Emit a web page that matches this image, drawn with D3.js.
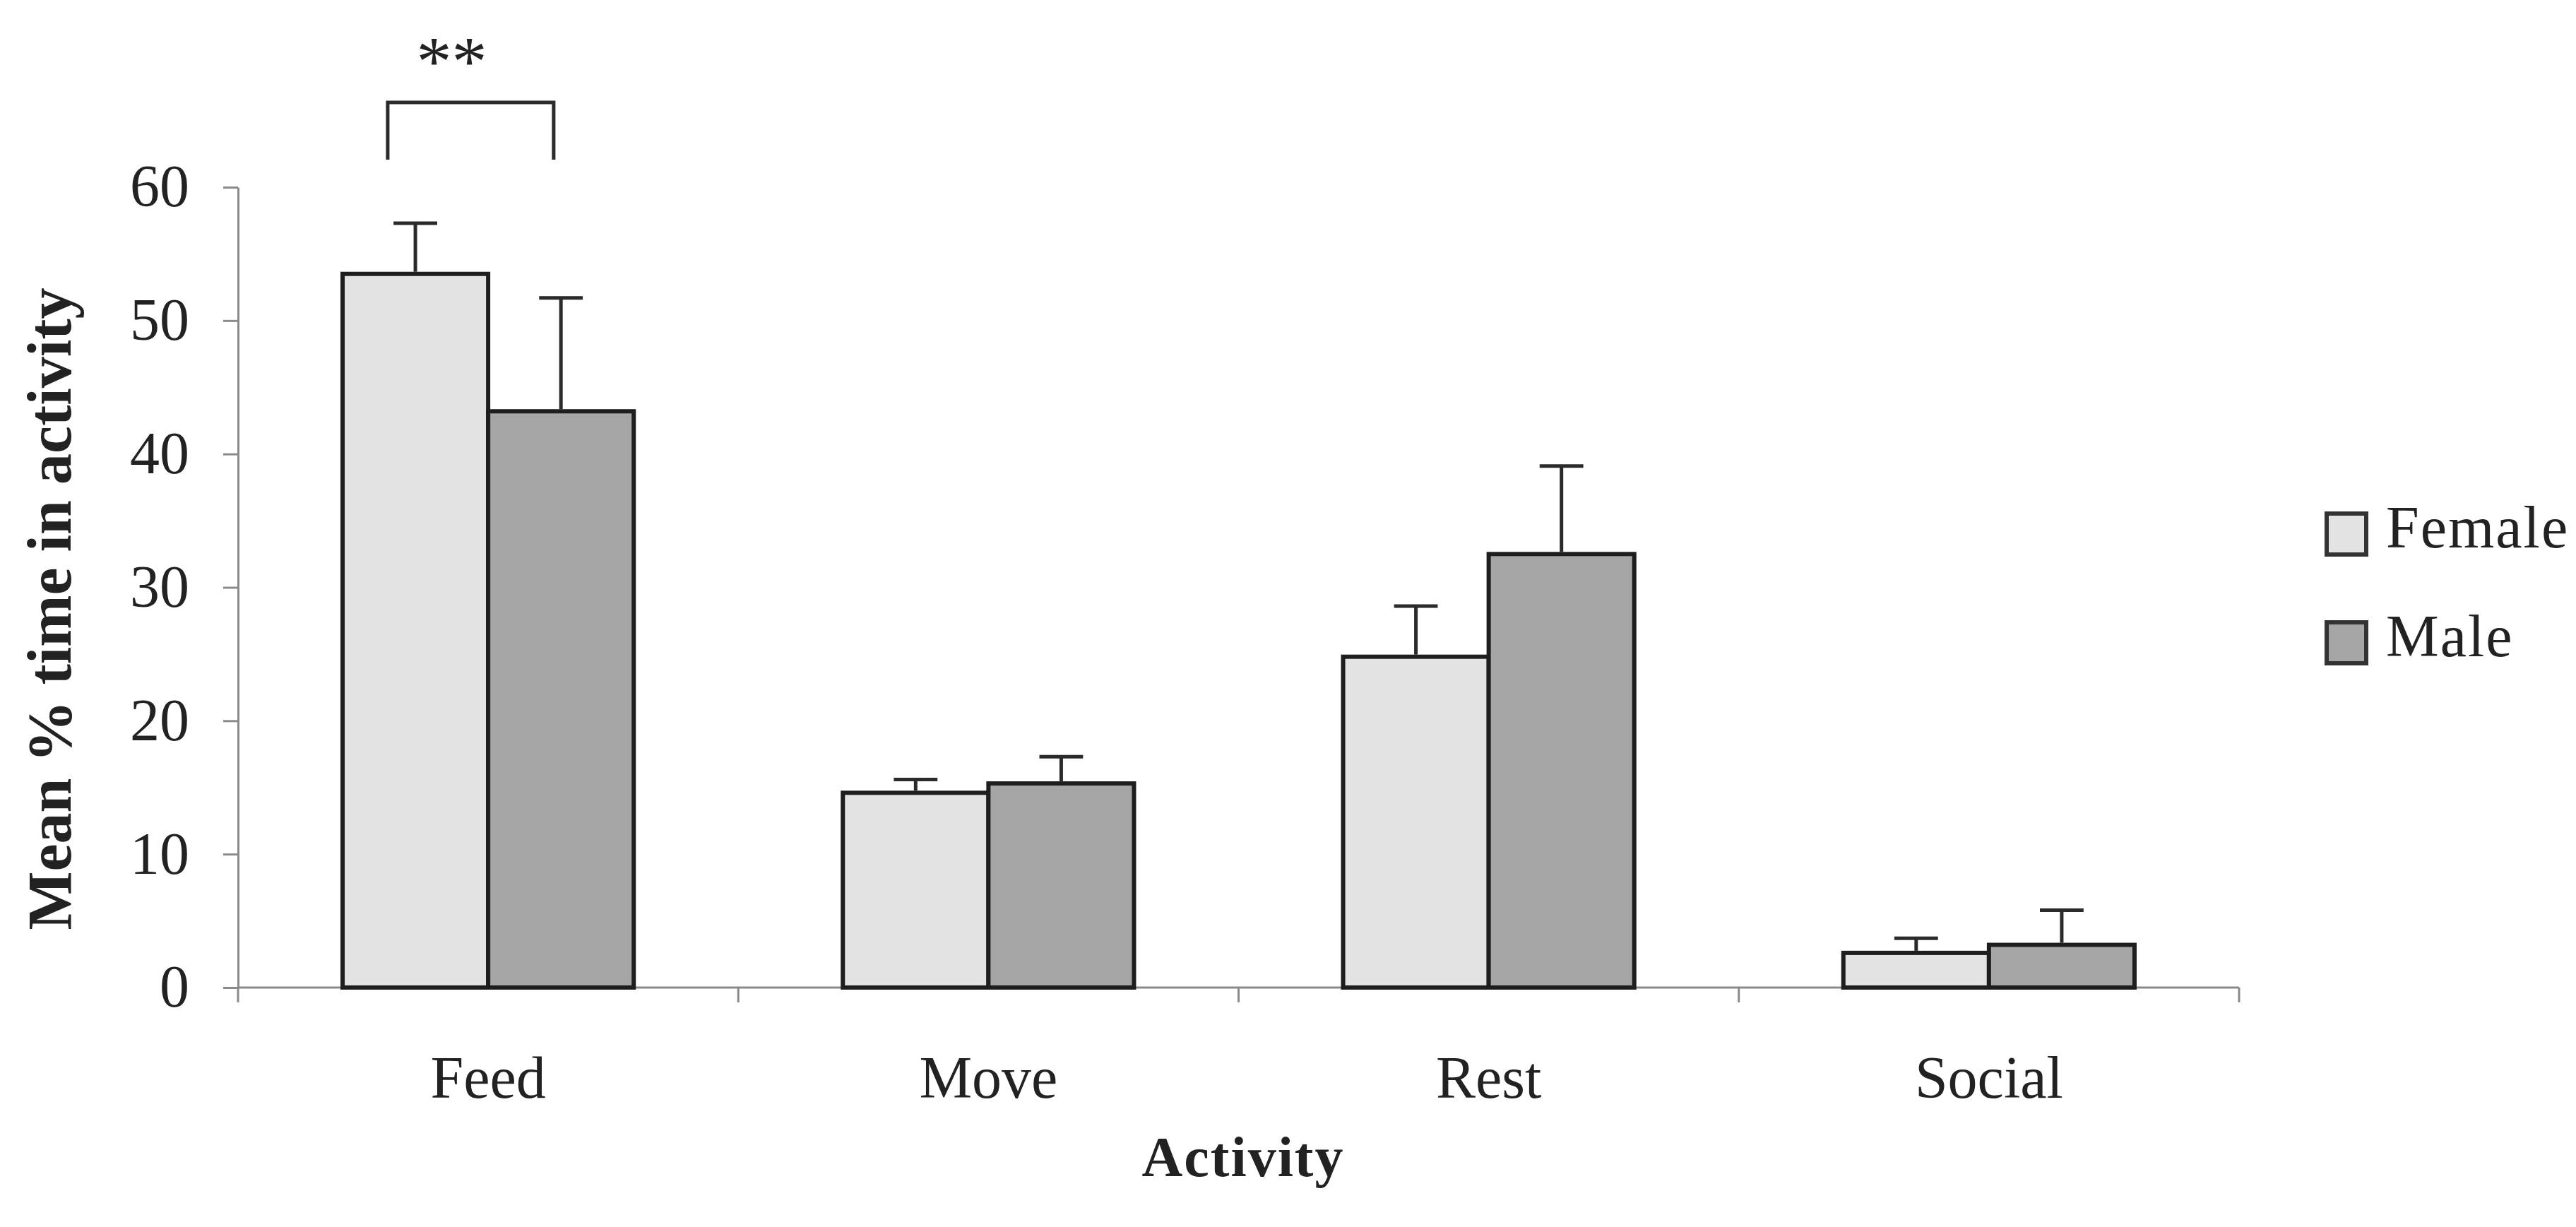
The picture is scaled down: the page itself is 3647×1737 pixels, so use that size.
<!DOCTYPE html>
<html>
<head>
<meta charset="utf-8">
<script src="https://cdn.jsdelivr.net/npm/d3@7"></script>
<style>
  html, body { margin: 0; padding: 0; background: #ffffff; }
  svg { display: block; }
  text { font-family: "Liberation Serif", "Times New Roman", serif; fill: #222; }
</style>
</head>
<body>
<svg id="chart" width="3647" height="1737"></svg>
<script>
// Activity budget by sex: mean % time and upper standard error
const activities = ["Feed", "Move", "Rest", "Social"];
const sexes = ["Female", "Male"];
const femaleMean = [53.5, 14.6, 24.8, 2.6];
const femaleErr = [3.8, 1.0, 3.8, 1.1];
const maleMean = [43.2, 15.3, 32.5, 3.2];
const maleErr = [8.5, 2.0, 6.6, 2.6];
const yTicks = [0, 10, 20, 30, 40, 50, 60];
const sexColors = ["#e3e3e3", "#a5a5a5"];

const rows = [];
activities.forEach((a, i) => {
  rows.push({ activity: a, sex: "Female", mean: femaleMean[i], err: femaleErr[i] });
  rows.push({ activity: a, sex: "Male", mean: maleMean[i], err: maleErr[i] });
});

const svg = d3.select("#chart");
const plotLeft = 337, plotRight = 3170, plotTop = 265, plotBottom = 1398;

const x = d3.scaleBand().domain(activities).range([plotLeft, plotRight])
  .paddingInner(0.418).paddingOuter(0.209);
const xs = d3.scaleBand().domain(sexes).range([0, x.bandwidth()]);
const y = d3.scaleLinear().domain([0, 60]).range([plotBottom, plotTop]);
const color = d3.scaleOrdinal().domain(sexes).range(sexColors);

// y axis
const yAxis = svg.append("g")
  .attr("transform", `translate(${plotLeft},0)`)
  .call(d3.axisLeft(y).tickValues(yTicks).tickSize(21).tickPadding(48).tickSizeOuter(0));
yAxis.select(".domain").attr("stroke", "#8a8a8a").attr("stroke-width", 3);
yAxis.selectAll(".tick line").attr("stroke", "#8a8a8a").attr("stroke-width", 3);
yAxis.selectAll(".tick text").attr("font-size", 84).attr("fill", "#2a2a2a")
  .style("font-family", "'Liberation Serif', serif");

// x axis line with boundary ticks between categories
const boundaries = d3.range(activities.length + 1).map(i => plotLeft + i * x.step());
svg.append("line")
  .attr("x1", plotLeft).attr("x2", plotRight).attr("y1", plotBottom).attr("y2", plotBottom)
  .attr("stroke", "#8a8a8a").attr("stroke-width", 3);
svg.selectAll(".bound").data(boundaries).join("line")
  .attr("class", "bound")
  .attr("x1", d => d).attr("x2", d => d)
  .attr("y1", plotBottom).attr("y2", plotBottom + 21)
  .attr("stroke", "#8a8a8a").attr("stroke-width", 3);

const xAxis = svg.append("g")
  .attr("transform", `translate(0,${plotBottom})`)
  .call(d3.axisBottom(x).tickSize(0).tickPadding(96));
xAxis.select(".domain").remove();
xAxis.selectAll(".tick text").attr("font-size", 84).attr("fill", "#2a2a2a")
  .style("font-family", "'Liberation Serif', serif");

// bars
const bw = xs.bandwidth();
svg.append("g").selectAll("rect").data(rows).join("rect")
  .attr("x", d => x(d.activity) + xs(d.sex))
  .attr("y", d => y(d.mean))
  .attr("width", bw)
  .attr("height", d => y(0) - y(d.mean))
  .attr("fill", d => color(d.sex))
  .attr("stroke", "#1e1e1e").attr("stroke-width", 6);

// upper error bars
const capW = bw * 0.3;
const eb = svg.append("g").attr("stroke", "#2a2a2a").attr("stroke-width", 5);
eb.selectAll(".stem").data(rows).join("line")
  .attr("class", "stem")
  .attr("x1", d => x(d.activity) + xs(d.sex) + bw / 2)
  .attr("x2", d => x(d.activity) + xs(d.sex) + bw / 2)
  .attr("y1", d => y(d.mean) - 3)
  .attr("y2", d => y(d.mean + d.err));
eb.selectAll(".cap").data(rows).join("line")
  .attr("class", "cap")
  .attr("x1", d => x(d.activity) + xs(d.sex) + bw / 2 - capW / 2)
  .attr("x2", d => x(d.activity) + xs(d.sex) + bw / 2 + capW / 2)
  .attr("y1", d => y(d.mean + d.err))
  .attr("y2", d => y(d.mean + d.err));

// significance bracket over Feed
const bl = x("Feed") + xs("Female") + bw * 0.31;
const br = x("Feed") + xs("Male") + bw * 0.45;
const bTop = y(60) - 120, bBot = y(60) - 39;
svg.append("path")
  .attr("d", `M${bl},${bBot}V${bTop}H${br}V${bBot}`)
  .attr("fill", "none").attr("stroke", "#2a2a2a").attr("stroke-width", 5);
svg.append("text")
  .attr("x", (bl + br) / 2 - 27).attr("y", bTop - 25)
  .attr("text-anchor", "middle").attr("font-size", 100).attr("fill", "#333")
  .text("**");

// axis titles
svg.append("text")
  .attr("transform", `translate(100,${862}) rotate(-90)`)
  .attr("text-anchor", "middle")
  .attr("font-size", 88).attr("font-weight", "bold").attr("fill", "#1a1a1a")
  .text("Mean % time in activity");
svg.append("text")
  .attr("x", 1760).attr("y", 1665)
  .attr("text-anchor", "middle")
  .attr("font-size", 80).attr("font-weight", "bold").attr("fill", "#1a1a1a")
  .attr("letter-spacing", 2)
  .text("Activity");

// legend
const lg = svg.append("g");
sexes.forEach((s, i) => {
  const ly = 727 + i * 154;
  lg.append("rect").attr("x", 3294).attr("y", ly).attr("width", 56).attr("height", 58)
    .attr("fill", color(s)).attr("stroke", "#333").attr("stroke-width", 6);
  lg.append("text").attr("x", 3378).attr("y", ly + 48)
    .attr("font-size", 84).attr("letter-spacing", 2).attr("fill", "#2a2a2a")
    .text(s);
});
</script>
</body>
</html>
